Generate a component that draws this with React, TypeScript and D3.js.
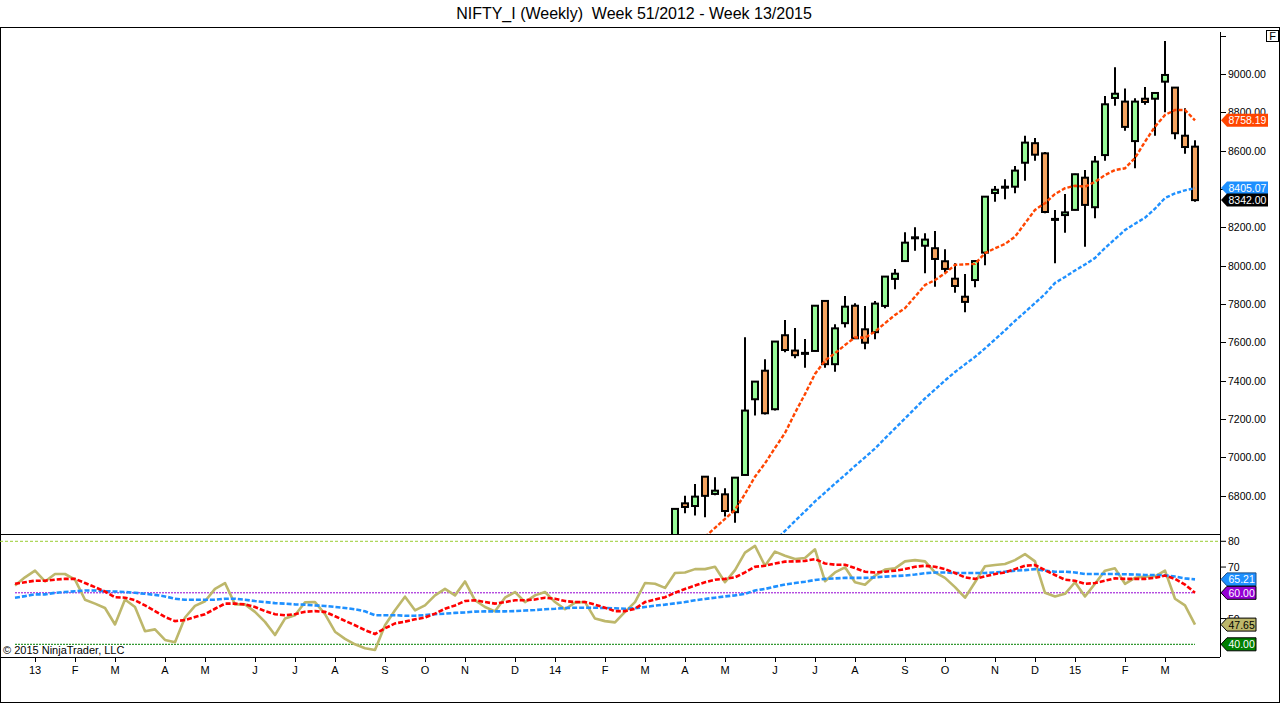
import * as d3 from 'd3';

const TITLE = 'NIFTY_I (Weekly)  Week 51/2012 - Week 13/2015';
const FIRST_BAR = new Date(2012, 11, 21);
const BAR_COUNT = 119;

// Bars before 66 sit under the floor of the price panel, so only these are listed.
const CANDLE_START = 66;
const OPEN = [
  6560, 6760, 6746, 6899, 6809, 6807, 6714, 6908, 7303, 7452,
  7251, 7637, 7557, 7545, 7555, 7816, 7486, 7700, 7791, 7668,
  7653, 7790, 7931, 8024, 8148, 8104, 8091, 8023, 7932, 7838,
  7925, 8068, 8379, 8410, 8412, 8537, 8639, 8586, 8244, 8264,
  8291, 8459, 8305, 8577, 8875, 8856, 8650, 8871, 8871, 8960,
  8929, 8678, 8621,
];
const HIGH = [
  6735, 6799, 6861, 6902, 6896, 6839, 6896, 7626, 7397, 7512,
  7606, 7717, 7675, 7618, 7793, 7821, 7694, 7842, 7804, 7790,
  7816, 7945, 7983, 8174, 8200, 8169, 8181, 8086, 8013, 7957,
  8026, 8362, 8416, 8451, 8520, 8678, 8666, 8593, 8291, 8374,
  8479, 8499, 8572, 8885, 9035, 8925, 8873, 8932, 8903, 9172,
  8931, 8821, 8654,
];
const LOW = [
  6500, 6708, 6696, 6688, 6802, 6691, 6659, 6905, 7218, 7223,
  7244, 7548, 7517, 7468, 7553, 7468, 7447, 7677, 7619, 7564,
  7616, 7778, 7877, 8022, 8078, 7960, 7890, 7964, 7859, 7757,
  7887, 8002, 8334, 8346, 8378, 8443, 8548, 8273, 8012, 8172,
  8289, 8099, 8247, 8548, 8835, 8704, 8508, 8840, 8678, 8800,
  8659, 8584, 8334,
];
const CLOSE = [
  6731, 6741, 6795, 6799, 6826, 6720, 6894, 7244, 7395, 7230,
  7604, 7560, 7533, 7543, 7791, 7486, 7673, 7786, 7621, 7598,
  7802, 7943, 7958, 8120, 8146, 8136, 8035, 7983, 7894, 7811,
  8024, 8360, 8396, 8412, 8496, 8642, 8579, 8280, 8242, 8278,
  8477, 8317, 8543, 8842, 8897, 8724, 8856, 8854, 8901, 8995,
  8691, 8619, 8342,
];

// price panel averages (orange = fast, blue = slow), read where they are visible
const FAST_MA_START = 69;
const FAST_MA = [
  6585, 6632, 6679, 6726, 6809, 6899, 6969, 7049, 7127, 7232,
  7330, 7435, 7505, 7543, 7586, 7626, 7624, 7656, 7700, 7743,
  7778, 7838, 7899, 7925, 7960, 8004, 8007, 8009, 8065, 8091,
  8113, 8151, 8221, 8291, 8326, 8374, 8404, 8417, 8412, 8437,
  8473, 8499, 8508, 8562, 8647, 8725, 8786, 8812, 8812, 8758.19,
];
const SLOW_MA_START = 76;
const SLOW_MA = [
  6565, 6616, 6668, 6718, 6770, 6816, 6863, 6908, 6955, 7000,
  7046, 7099, 7151, 7203, 7255, 7307, 7354, 7401, 7445, 7485,
  7524, 7568, 7615, 7662, 7712, 7758, 7805, 7852, 7910, 7941,
  7975, 8006, 8040, 8092, 8139, 8186, 8219, 8250, 8297, 8353,
  8377, 8393, 8405.07,
];

// lower panel: oscillator (olive) with its fast (red) and slow (blue) averages
const OSC = [
  62.8, 66.0, 68.6, 64.4, 67.3, 67.3, 65.1, 57.3, 55.8, 54.1,
  47.7, 57.4, 54.5, 45.1, 45.8, 41.7, 40.8, 50.4, 54.9, 56.7,
  61.5, 63.8, 55.5, 55.5, 52.6, 48.7, 43.6, 50.0, 51.3, 56.3,
  56.4, 51.7, 44.9, 42.1, 40.0, 38.5, 37.8, 47.4, 53.2, 58.5,
  53.2, 55.1, 59.0, 61.5, 59.0, 64.4, 57.1, 54.5, 52.8, 58.1,
  60.3, 56.4, 59.0, 60.3, 56.4, 53.6, 56.2, 56.4, 50.0, 49.0,
  48.5, 52.6, 56.4, 63.8, 63.5, 61.9, 67.7, 67.9, 69.2, 69.2,
  70.1, 64.1, 68.8, 75.6, 78.2, 70.5, 76.0, 74.4, 73.1, 73.5,
  76.9, 64.5, 67.9, 69.9, 64.1, 63.1, 66.7, 69.0, 69.5, 72.2,
  72.7, 72.2, 67.9, 65.8, 62.2, 58.1, 64.1, 70.3, 70.8, 71.2,
  72.7, 75.0, 72.2, 60.0, 58.6, 59.6, 64.1, 58.6, 63.5, 68.6,
  69.5, 63.5, 65.8, 66.3, 66.4, 68.6, 57.7, 55.1, 47.65,
];
const OSC_FAST = [
  63.5, 64.1, 64.7, 64.7, 65.1, 65.4, 65.4, 63.8, 62.2, 60.5,
  58.3, 58.1, 57.1, 55.1, 52.9, 50.6, 49.0, 49.4, 50.6, 51.7,
  53.8, 55.8, 55.8, 55.5, 54.5, 52.9, 51.7, 51.3, 51.7, 52.6,
  52.9, 52.6, 50.9, 49.1, 47.4, 45.5, 44.0, 46.2, 48.1, 48.8,
  49.7, 50.4, 51.9, 53.8, 55.1, 56.8, 57.1, 56.4, 55.8, 56.4,
  57.1, 57.1, 57.4, 58.1, 57.7, 56.8, 56.4, 56.4, 55.4, 54.2,
  52.9, 52.9, 53.8, 56.4, 57.4, 58.3, 60.0, 61.5, 62.8, 64.1,
  65.1, 65.4, 66.0, 67.9, 70.1, 70.5, 71.4, 72.1, 72.2, 72.4,
  73.1, 71.4, 70.9, 70.9, 69.6, 68.2, 67.9, 68.2, 68.6, 69.2,
  70.1, 70.5, 70.1, 69.2, 67.7, 66.0, 65.4, 66.4, 67.3, 67.9,
  69.2, 70.5, 70.8, 68.8, 66.9, 65.1, 64.7, 63.5, 63.8, 64.7,
  65.6, 65.4, 65.4, 65.4, 65.8, 66.7, 65.4, 63.2, 60.0,
];
const OSC_SLOW = [
  58.1, 58.7, 59.4, 59.4, 60.0, 60.3, 60.6, 60.9, 60.9, 60.6,
  60.5, 60.3, 60.0, 59.6, 59.2, 58.6, 57.7, 57.3, 57.3, 57.3,
  57.3, 57.7, 57.7, 57.3, 56.8, 56.4, 56.0, 55.8, 55.5, 55.4,
  55.1, 54.9, 54.5, 54.1, 53.6, 52.8, 51.3, 51.3, 51.3, 51.1,
  51.1, 51.3, 51.7, 51.9, 52.2, 52.4, 52.7, 52.8, 52.8, 52.8,
  52.9, 53.1, 53.3, 53.6, 53.8, 54.1, 54.2, 54.2, 54.2, 54.1,
  54.0, 53.8, 54.0, 54.5, 55.0, 55.4, 55.9, 56.4, 57.1, 57.6,
  58.1, 58.6, 59.0, 59.6, 60.9, 61.5, 62.4, 63.2, 63.8, 64.3,
  65.0, 65.4, 65.6, 65.8, 65.8, 65.8, 66.0, 66.3, 66.5, 66.7,
  67.1, 67.6, 67.9, 67.9, 67.7, 67.7, 67.7, 67.7, 67.9, 68.2,
  68.6, 68.8, 69.2, 68.6, 68.2, 68.2, 67.9, 67.3, 67.3, 67.3,
  67.3, 67.2, 67.1, 66.9, 66.9, 66.8, 66.3, 65.6, 65.21,
];
const OSC_UPPER = 80;
const OSC_MID = 60;
const OSC_LOWER = 40;

const PRICE_TICKS = [6800, 7000, 7200, 7400, 7600, 7800, 8000, 8200, 8400, 8600, 8800, 9000, 9200];
const PRICE_LABEL_MAX = 9000;
const OSC_TICKS = [40, 50, 60, 70, 80];

const W = 1280;
const H = 703;
const PLOT_RIGHT = 1220;
const PRICE_TOP = 28;
const PRICE_BOTTOM = 534;
const OSC_BOTTOM = 657;
const FONT = 'Arial, "Liberation Sans", sans-serif';
const AXIS_FONT_SIZE = 10.5;

const UP_FILL = '#98FB98';
const DOWN_FILL = '#F4A460';

function Flag({ y, text, fill, color, right, stroke }: {
  y: number; text: string; fill: string; color: string; right: number; stroke?: string;
}) {
  const h = 6.5;
  const d = `M1221,${y} L1227,${y - h} L${right},${y - h} L${right},${y + h} L1227,${y + h} Z`;
  return (
    <g>
      <path d={d} fill={fill} stroke={stroke || 'none'} strokeWidth={1} />
      <text x={1228.5} y={y + 4} fontSize={AXIS_FONT_SIZE} fill={color} fontFamily={FONT}>{text}</text>
    </g>
  );
}

export default function App() {
  const x = d3.scaleLinear().domain([0, BAR_COUNT - 1]).range([15, 1195]);
  const yPrice = d3.scaleLinear().domain([6600, 9240]).range([PRICE_BOTTOM, PRICE_TOP]);
  const yOsc = d3.scaleLinear().domain([40, 80]).range([644.3, 541.3]);

  const priceLine = (start: number) =>
    d3.line<number>().x((_, k) => x(start + k)).y(v => yPrice(v));
  const oscLine = d3.line<number>().x((_, k) => x(k)).y(v => yOsc(v));

  // month ticks: first weekly bar falling in a new month
  const fmtYear = d3.timeFormat('%y');
  const fmtMonth = d3.timeFormat('%b');
  const barDates = d3.range(BAR_COUNT).map(i => d3.timeWeek.offset(FIRST_BAR, i));
  const monthTicks = barDates
    .map((d, i) => ({ d, i }))
    .filter(({ d, i }) => i > 0 && d.getMonth() !== barDates[i - 1].getMonth())
    .map(({ d, i }) => ({ i, label: d.getMonth() === 0 ? fmtYear(d) : fmtMonth(d).charAt(0) }));

  const fmt2 = d3.format('.2f');
  const lastClose = CLOSE[CLOSE.length - 1];
  const lastFast = FAST_MA[FAST_MA.length - 1];
  const lastSlow = SLOW_MA[SLOW_MA.length - 1];
  const lastOsc = OSC[OSC.length - 1];
  const lastOscSlow = OSC_SLOW[OSC_SLOW.length - 1];
  const lineSpan = [x(0), x(BAR_COUNT - 1)];

  // axis labels that sit right under a value flag are covered by it, skip them
  const priceFlagYs = [lastFast, lastSlow, lastClose].map(v => yPrice(v));
  const oscFlagYs = [lastOscSlow, OSC_MID, lastOsc, OSC_LOWER].map(v => yOsc(v));
  const covered = (y: number, flags: number[]) => flags.some(f => Math.abs(f - y) < 4.5);

  return (
    <svg
      width={W}
      height={H}
      style={{ position: 'absolute', left: 0, top: 0, display: 'block', background: '#fff' }}
    >
      <defs>
        <clipPath id="price-clip">
          <rect x={0} y={PRICE_TOP} width={PLOT_RIGHT} height={PRICE_BOTTOM - PRICE_TOP} />
        </clipPath>
      </defs>

      <text x={634} y={19} textAnchor="middle" fontSize={16} fontFamily={FONT} fill="#000" style={{ whiteSpace: 'pre' }}>
        {TITLE}
      </text>

      {/* frames */}
      <rect x={0.5} y={27.5} width={W - 1} height={H - 28} fill="none" stroke="#000" />
      <line x1={0} x2={PLOT_RIGHT} y1={PRICE_BOTTOM + 0.5} y2={PRICE_BOTTOM + 0.5} stroke="#000" />
      <line x1={0} x2={PLOT_RIGHT} y1={OSC_BOTTOM + 0.5} y2={OSC_BOTTOM + 0.5} stroke="#000" />
      <line x1={PLOT_RIGHT + 0.5} x2={PLOT_RIGHT + 0.5} y1={32} y2={OSC_BOTTOM} stroke="#000" />
      <rect x={1266.5} y={30.5} width={12} height={11} fill="#fff" stroke="#000" />
      <text x={1272.5} y={40} textAnchor="middle" fontSize={11} fontFamily={FONT}>F</text>

      {/* price axis */}
      {PRICE_TICKS.map(t => (
        <g key={t}>
          <line x1={PLOT_RIGHT} x2={PLOT_RIGHT + 6} y1={Math.round(yPrice(t)) + 0.5} y2={Math.round(yPrice(t)) + 0.5} stroke="#000" />
          {t <= PRICE_LABEL_MAX && !covered(yPrice(t), priceFlagYs) && (
            <text x={1228} y={yPrice(t) + 4} fontSize={AXIS_FONT_SIZE} fontFamily={FONT} fill="#000">{fmt2(t)}</text>
          )}
        </g>
      ))}

      {/* candles */}
      <g clipPath="url(#price-clip)">
        {CLOSE.map((c, k) => {
          const i = CANDLE_START + k;
          const o = OPEN[k];
          const cx = x(i);
          const top = yPrice(Math.max(o, c));
          const bottom = yPrice(Math.min(o, c));
          return (
            <g key={i}>
              <line x1={cx} x2={cx} y1={yPrice(HIGH[k])} y2={yPrice(LOW[k])} stroke="#000" strokeWidth={2} />
              <rect
                x={cx - 3}
                y={top}
                width={6}
                height={Math.max(bottom - top, 1)}
                fill={c >= o ? UP_FILL : DOWN_FILL}
                stroke="#000"
                strokeWidth={2}
              />
            </g>
          );
        })}
        <path d={priceLine(SLOW_MA_START)(SLOW_MA) || ''} fill="none" stroke="#1E90FF" strokeWidth={2.4} strokeDasharray="4,2" />
        <path d={priceLine(FAST_MA_START)(FAST_MA) || ''} fill="none" stroke="#FF4500" strokeWidth={2.4} strokeDasharray="4,2" />
      </g>

      <Flag y={yPrice(lastFast)} text={fmt2(lastFast)} fill="#FF4500" color="#fff" right={1268} />
      <Flag y={yPrice(lastSlow)} text={fmt2(lastSlow)} fill="#1E90FF" color="#fff" right={1268} />
      <Flag y={yPrice(lastClose)} text={fmt2(lastClose)} fill="#000" color="#fff" right={1268} />

      {/* oscillator panel */}
      <line x1={0} x2={PLOT_RIGHT} y1={yOsc(OSC_UPPER)} y2={yOsc(OSC_UPPER)} stroke="#9ACD32" strokeDasharray="3,2" />
      <line x1={lineSpan[0]} x2={lineSpan[1]} y1={yOsc(OSC_MID)} y2={yOsc(OSC_MID)} stroke="#9400D3" strokeDasharray="2,1" />
      <line x1={lineSpan[0]} x2={lineSpan[1]} y1={yOsc(OSC_LOWER)} y2={yOsc(OSC_LOWER)} stroke="#008000" strokeDasharray="2,1" />
      <path d={oscLine(OSC) || ''} fill="none" stroke="#BDB76B" strokeWidth={2.6} strokeLinejoin="round" />
      <path d={oscLine(OSC_SLOW) || ''} fill="none" stroke="#1E90FF" strokeWidth={2.6} strokeDasharray="5,2" />
      <path d={oscLine(OSC_FAST) || ''} fill="none" stroke="#FF0000" strokeWidth={2.6} strokeDasharray="5,2" />

      {OSC_TICKS.map(t => (
        <g key={t}>
          <line x1={PLOT_RIGHT} x2={PLOT_RIGHT + 6} y1={yOsc(t)} y2={yOsc(t)} stroke="#000" />
          {!covered(yOsc(t), oscFlagYs) && (
            <text x={1228} y={yOsc(t) + 4} fontSize={AXIS_FONT_SIZE} fontFamily={FONT} fill="#000">{t}</text>
          )}
        </g>
      ))}

      <Flag y={yOsc(lastOscSlow)} text={fmt2(lastOscSlow)} fill="#1E90FF" color="#fff" right={1256} stroke="#1a4f8a" />
      <Flag y={yOsc(OSC_MID)} text={fmt2(OSC_MID)} fill="#9400D3" color="#fff" right={1256} stroke="#000" />
      <Flag y={yOsc(lastOsc)} text={fmt2(lastOsc)} fill="#BDB76B" color="#000" right={1256} stroke="#000" />
      <Flag y={yOsc(OSC_LOWER)} text={fmt2(OSC_LOWER)} fill="#008000" color="#fff" right={1256} stroke="#000" />

      <text x={3} y={654} fontSize={11} fontFamily={FONT} fill="#000">© 2015 NinjaTrader, LLC</text>

      {/* time axis */}
      {monthTicks.map(t => (
        <g key={t.i}>
          <line x1={x(t.i) + 0.5} x2={x(t.i) + 0.5} y1={OSC_BOTTOM} y2={OSC_BOTTOM + 5} stroke="#000" />
          <text x={x(t.i)} y={674} textAnchor="middle" fontSize={11} fontFamily={FONT} fill="#000">{t.label}</text>
        </g>
      ))}
    </svg>
  );
}
